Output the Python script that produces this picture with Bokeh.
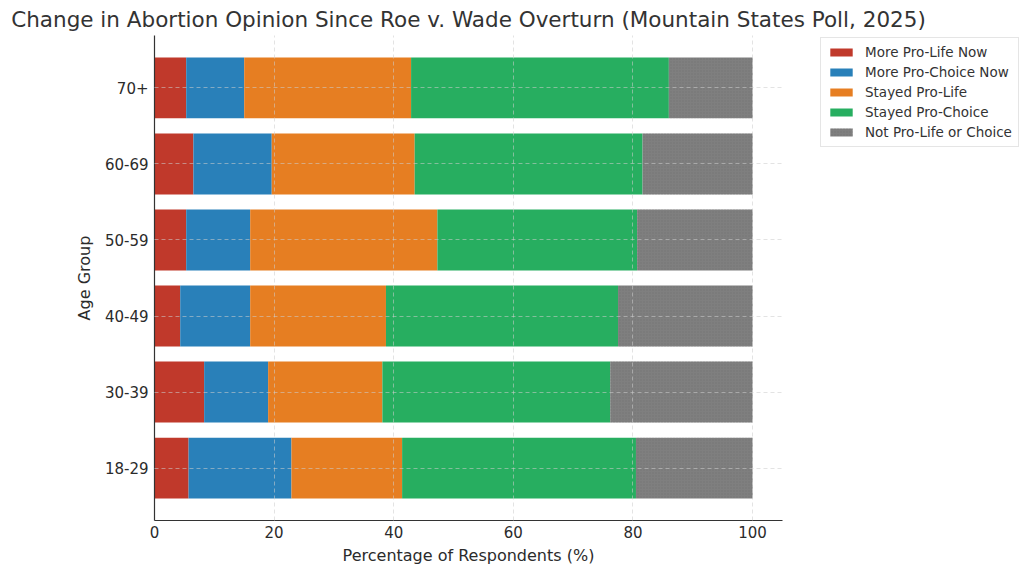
from bokeh.plotting import figure
from bokeh.models import ColumnDataSource, Legend, LegendItem, FixedTicker, Range1d
from bokeh.embed import file_html
from bokeh.resources import INLINE

age_groups = ["18-29", "30-39", "40-49", "50-59", "60-69", "70+"]
more_pro_life_now = [5.7, 8.3, 4.3, 5.3, 6.5, 5.3]
more_pro_choice_now = [17.2, 10.7, 11.7, 10.7, 13.1, 9.7]
stayed_pro_life = [18.5, 19.1, 22.7, 31.3, 23.9, 27.9]
stayed_pro_choice = [39.1, 38.1, 38.8, 33.4, 38.1, 43.1]
not_pro_life_or_choice = [19.5, 23.8, 22.5, 19.3, 18.4, 14.0]

series_names = ["More Pro-Life Now", "More Pro-Choice Now", "Stayed Pro-Life",
                "Stayed Pro-Choice", "Not Pro-Life or Choice"]
series_values = [more_pro_life_now, more_pro_choice_now, stayed_pro_life,
                 stayed_pro_choice, not_pro_life_or_choice]
colors = ["#c0392b", "#2980b9", "#e67e22", "#27ae60", "#7f7f7f"]

FONT = "DejaVu Sans"

p = figure(
    output_backend="svg", toolbar_location=None,
    frame_width=628, frame_height=485,
    min_border_left=154, min_border_right=232, min_border_top=0, min_border_bottom=0,
    x_range=Range1d(0, 105), y_range=Range1d(-0.69, 5.69),
    title="Change in Abortion Opinion Since Roe v. Wade Overturn (Mountain States Poll, 2025)",
)
p.outline_line_color = None

ys = list(range(len(age_groups)))
left = [0.0] * len(ys)
renderers = []
for name, vals, col in zip(series_names, series_values, colors):
    right = [l + v for l, v in zip(left, vals)]
    src = ColumnDataSource(dict(y=ys, left=left, right=right))
    if name == "Not Pro-Life or Choice":
        r = p.hbar(y="y", left="left", right="right", height=0.8, source=src,
                   fill_color=col, line_color=None, hatch_pattern="dot",
                   hatch_color="#6a6a6a", hatch_scale=3, hatch_alpha=0.6)
    else:
        r = p.hbar(y="y", left="left", right="right", height=0.8, source=src,
                   fill_color=col, line_color=None)
    renderers.append((name, r))
    left = right

p.xgrid.grid_line_color = "#cccccc"
p.ygrid.grid_line_color = "#cccccc"
p.xgrid.grid_line_dash = "4 3"
p.ygrid.grid_line_dash = "4 3"
p.xgrid.grid_line_width = 0.8
p.ygrid.grid_line_width = 0.8
p.xgrid.level = "overlay"
p.ygrid.level = "overlay"
p.xgrid.grid_line_alpha = 0.7
p.ygrid.grid_line_alpha = 0.7

p.xaxis.ticker = FixedTicker(ticks=[0, 20, 40, 60, 80, 100])
p.yaxis.ticker = FixedTicker(ticks=ys)
p.yaxis.major_label_overrides = {i: g for i, g in enumerate(age_groups)}
for ax in (p.xaxis[0], p.yaxis[0]):
    ax.axis_line_color = "#333333"
    ax.axis_line_width = 1.2
    ax.major_tick_in = 0
    ax.major_tick_out = 0
    ax.minor_tick_in = 0
    ax.minor_tick_out = 0
    ax.major_label_text_font = FONT
    ax.major_label_text_font_size = "15px"
    ax.major_label_text_color = "#2b2b2b"
    ax.axis_label_text_font = FONT
    ax.axis_label_text_font_size = "16px"
    ax.axis_label_text_font_style = "normal"
    ax.axis_label_text_color = "#2b2b2b"
p.xaxis.axis_label = "Percentage of Respondents (%)"
p.yaxis.axis_label = "Age Group"
p.xaxis.major_label_standoff = 5
p.yaxis.major_label_standoff = 6
p.xaxis.axis_label_standoff = 5
p.yaxis.axis_label_standoff = 8

p.title.text_font = FONT
p.title.text_font_size = "21.5px"
p.title.text_font_style = "normal"
p.title.text_color = "#333333"
p.title.align = "center"
p.title.standoff = 8

legend = Legend(items=[LegendItem(label=n, renderers=[r]) for n, r in renderers],
                location=(38, 373))
legend.label_text_font = FONT
legend.label_text_font_size = "13.5px"
legend.label_text_color = "#333333"
legend.border_line_color = "#cccccc"
legend.glyph_width = 28
legend.glyph_height = 10
legend.label_height = 15
legend.spacing = 4
legend.padding = 6
legend.margin = 0
legend.label_standoff = 10
p.add_layout(legend, "right")

open("out.html", "w").write(file_html(p, INLINE))
